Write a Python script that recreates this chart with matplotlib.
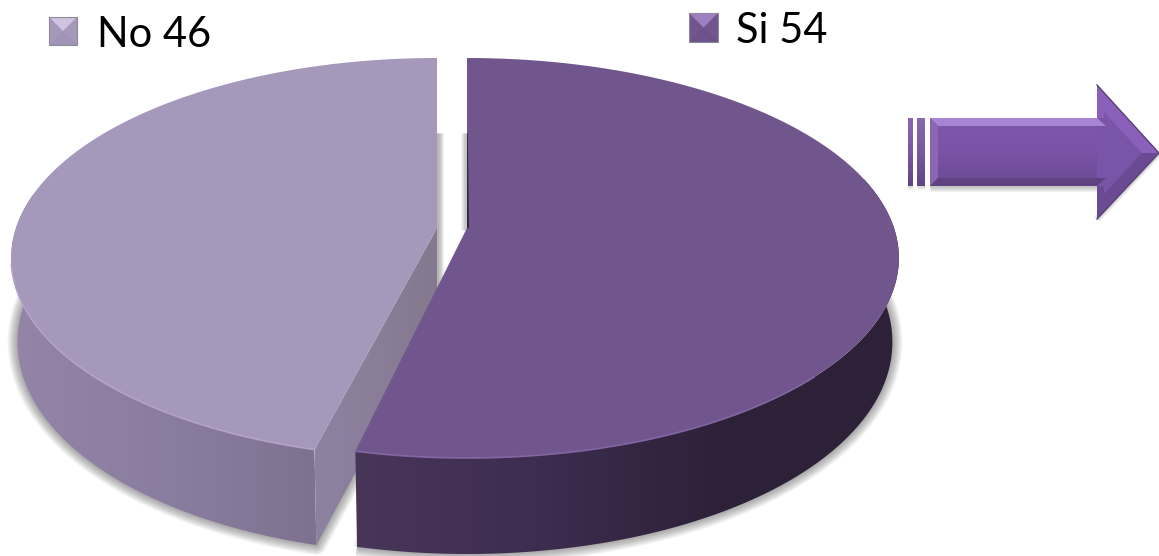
import numpy as np
import matplotlib
matplotlib.use('Agg')
from matplotlib import pyplot as plt
from matplotlib.colors import LinearSegmentedColormap
from matplotlib.patches import Polygon

categories = ['Si', 'No']
values = [54, 46]

plt.rcParams['font.family'] = ['Lato', 'DejaVu Sans']

fig = plt.figure(figsize=(11.59, 5.56), dpi=100)
ax = fig.add_axes([0, 0, 1, 1])
ax.set_axis_off()


def grad(poly, colors, vertical=False, z=2):
    # gradient fill, clipped to the polygon
    poly = np.array(poly)
    x0, y0 = poly.min(axis=0)
    x1, y1 = poly.max(axis=0)
    cmap = LinearSegmentedColormap.from_list('g', colors)
    ramp = np.linspace(0, 1, 256)
    ramp = ramp.reshape(-1, 1) if vertical else ramp.reshape(1, -1)
    im = ax.imshow(ramp, cmap=cmap, extent=(x0, x1, y1, y0), aspect='auto', zorder=z, interpolation='bilinear')
    patch = Polygon(poly, closed=True, transform=ax.transData, fc='none', ec='none')
    ax.add_patch(patch)
    im.set_clip_path(patch)


def fill(poly, color, z=2, **kw):
    ax.add_patch(Polygon(poly, closed=True, fc=color, ec='none', zorder=z, **kw))


def soft_line(pts, z=1, spread=11, alpha=0.045):
    # blurred shadow, stacked wide lines
    pts = np.array(pts)
    for w in range(1, spread + 1):
        ax.plot(pts[:, 0], pts[:, 1], color='#303030', lw=w * 1.3, alpha=alpha,
                zorder=z, solid_capstyle='butt', solid_joinstyle='round')


def rim(t, cx, ax_x):
    c = -np.cos(t)
    x = cx + ax_x * np.sin(t) / (1 - 0.15 * c)
    y = 228 + 195.5 * c / (1 - 0.15 * c)
    return x, y


def wall(t, cx, ax_x):
    x, y = rim(t, cx, ax_x)
    c = -np.cos(t)
    return cx + (x - cx) * 0.985, y + 82 + 14 * np.clip(c, 0, None)


def pts(fn, a, b, cx, ax_x):
    t = np.radians(np.linspace(a, b, 240))
    x, y = fn(t, cx, ax_x)
    return np.column_stack([x, y])


split = 360 * values[0] / sum(values)

# No slice
no_cx, no_a = 437, 421
no_top = pts(rim, split, 360, no_cx, no_a)
no_low = pts(wall, split, 280, no_cx, no_a)
no_high = pts(rim, split, 280, no_cx, no_a)
corner_top = no_top[0]
corner_low = no_low[0]
apex_low = (no_cx, 322)

soft_line(np.vstack([no_low[::-1], [apex_low]]), z=1)
soft_line([(no_cx + 1, 133), (no_cx + 1, 325)], z=1, spread=6, alpha=0.07)
grad(np.vstack([no_high, no_low[::-1]]), ['#9485a8', '#8b7d9f', '#7f7290'], z=3)
grad([(no_cx, 228), corner_top, corner_low, apex_low], ['#8e82a2', '#85798f'], z=3)
fill(np.vstack([[(no_cx, 228)], no_top]), '#a598bb', z=4)
ax.plot(no_top[:95, 0], no_top[:95, 1], color='#b3a3c9', lw=1.2, zorder=5)

# Si slice, front corner sits a little short of the split in this view
si_cx, si_a = 467, 427
si_end = split - 1.5
si_top = pts(rim, 0, si_end, si_cx, si_a)
si_low = pts(wall, 75, si_end, si_cx, si_a)
si_high = pts(rim, 75, si_end, si_cx, si_a)

soft_line(si_low, z=1)
soft_line([(si_cx - 1, 133), (si_cx - 1, 230)], z=1, spread=6, alpha=0.05)
soft_line([si_low[-1], (si_cx - 9, 310)], z=5, spread=5, alpha=0.03)
grad(np.vstack([si_high, si_low[::-1]]), ['#483659', '#3d2d50', '#2e2139', '#2d2138'], z=6)
fill(np.vstack([[(si_cx, 228)], si_top]), '#70568d', z=7)
ax.plot(si_top[165:, 0], si_top[165:, 1], color='#8366a3', lw=1.2, zorder=8)
fill([(si_cx, 133), (si_cx + 0.8, 133), (si_cx + 2, 228), (si_cx, 228)], '#33263f', z=8)

# arrow
bars = [(908, 913), (917, 925)]
for a, b in bars:
    soft_line([(a, 187), (b, 187)], z=1, spread=3, alpha=0.06)
    grad([(a, 118), (b, 118), (b, 186), (a, 186)], ['#8a68b0', '#7a58a0', '#5f4585'], vertical=True, z=3)
soft_line([(930, 187), (1097, 187)], z=1, spread=5, alpha=0.06)
soft_line([(1097, 219), (1159, 153)], z=1, spread=4, alpha=0.07)
fill([(1097, 85), (1159, 153), (1097, 219)], '#7a54a6', z=3)
grad([(930, 118), (1097, 118), (1097, 186), (930, 186)], ['#7f58ad', '#7a52a6', '#6c4a94'], vertical=True, z=3)
fill([(930, 118), (1097, 118), (1106, 126), (938, 126)], '#a784d4', z=4)
fill([(930, 118), (938, 126), (938, 178), (930, 186)], '#8a66b4', z=4)
fill([(930, 186), (938, 178), (1106, 178), (1097, 186)], '#5e4282', z=4)
fill([(1097, 85), (1159, 153), (1142, 153), (1104, 112), (1104, 118), (1097, 118)], '#8a60ba', z=4)
fill([(1097, 219), (1159, 153), (1142, 153), (1104, 194), (1104, 186), (1097, 186)], '#6a4a92', z=4)
ax.plot([1097, 1159, 1097], [85, 153, 219], color='#5b4178', lw=1, zorder=5)


def marker(x, y, size, base, light, dark):
    # small bevelled legend square
    m = size * 0.5
    mid = (x + m, y + m)
    fill([(x, y), (x + size, y), (x + size, y + size), (x, y + size)], base, z=3)
    fill([(x, y), (x + size, y), mid], light, z=4)
    fill([(x, y + size), (x + size, y + size), mid], dark, z=4)
    ax.plot([x, x + size, x + size, x, x], [y, y, y + size, y + size, y], color='#8f8a98', lw=0.8, zorder=5)


marker(49, 17, 28, '#a598bb', '#cfc3df', '#a093b5')
marker(689, 13, 29, '#70568d', '#a07fc0', '#6b5288')

ax.text(97, 47, f'{categories[1]} {values[1]}', fontsize=30, color='black', va='baseline', ha='left')
ax.text(736, 43, f'{categories[0]} {values[0]}', fontsize=30, color='black', va='baseline', ha='left')

ax.set_xlim(0, 1159)
ax.set_ylim(556, 0)

fig.savefig('out.png', dpi=100)
